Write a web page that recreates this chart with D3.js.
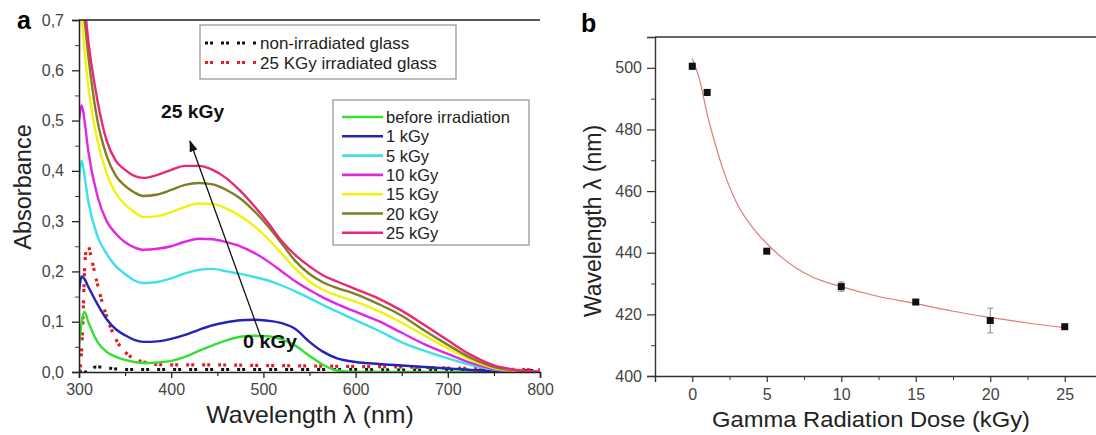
<!DOCTYPE html>
<html>
<head>
<meta charset="utf-8">
<script src="https://cdn.jsdelivr.net/npm/d3@7"></script>
<style>
body { margin: 0; background: #fff; }
svg { font-family: "Liberation Sans", Arial, sans-serif; }
.tick text { fill: #444; }
</style>
</head>
<body>
<div id="chart"></div>
<script>
// ---- panel a data (absorbance spectra) ----
var wavelengths = [300, 303, 306, 310, 320, 330, 340, 350, 360, 370, 385, 400, 415, 430, 445, 460, 475, 490, 505, 520, 535, 550, 565, 580, 600, 625, 650, 675, 700, 725, 750, 775, 800];
var absBefore = [0.05, 0.10, 0.12, 0.10, 0.06, 0.04, 0.03, 0.024, 0.02, 0.018, 0.019, 0.022, 0.03, 0.042, 0.053, 0.063, 0.07, 0.072, 0.071, 0.065, 0.052, 0.032, 0.014, 0.003, 0, 0, 0, 0, 0, 0, 0, 0, 0];
var abs1 = [0.16, 0.19, 0.185, 0.17, 0.135, 0.105, 0.085, 0.073, 0.064, 0.06, 0.061, 0.066, 0.074, 0.084, 0.093, 0.099, 0.103, 0.104, 0.102, 0.097, 0.085, 0.06, 0.04, 0.027, 0.02, 0.016, 0.013, 0.01, 0.007, 0.004, 0.002, 0.001, 0];
var abs5 = [0.38, 0.42, 0.39, 0.34, 0.27, 0.235, 0.21, 0.195, 0.182, 0.177, 0.179, 0.186, 0.196, 0.203, 0.205, 0.2, 0.195, 0.189, 0.182, 0.172, 0.16, 0.147, 0.133, 0.12, 0.103, 0.082, 0.059, 0.042, 0.027, 0.014, 0.005, 0.001, 0];
var abs10 = [0.5, 0.53, 0.5, 0.44, 0.35, 0.3, 0.275, 0.258, 0.248, 0.243, 0.245, 0.25, 0.259, 0.265, 0.264, 0.258, 0.25, 0.237, 0.22, 0.2, 0.18, 0.163, 0.148, 0.135, 0.12, 0.101, 0.078, 0.055, 0.036, 0.018, 0.006, 0.001, 0];
var abs15 = [0.75, 0.7, 0.64, 0.57, 0.46, 0.395, 0.355, 0.333, 0.318, 0.308, 0.31, 0.318, 0.328, 0.335, 0.334, 0.325, 0.31, 0.29, 0.265, 0.235, 0.205, 0.18, 0.163, 0.152, 0.14, 0.121, 0.098, 0.072, 0.047, 0.024, 0.008, 0.002, 0];
var abs20 = [0.8, 0.76, 0.7, 0.63, 0.5, 0.43, 0.39, 0.37, 0.357, 0.35, 0.353, 0.362, 0.372, 0.376, 0.373, 0.362, 0.345, 0.32, 0.29, 0.255, 0.22, 0.195, 0.178, 0.167, 0.155, 0.135, 0.112, 0.082, 0.054, 0.028, 0.01, 0.003, 0];
var abs25 = [0.8, 0.78, 0.73, 0.66, 0.54, 0.46, 0.42, 0.402, 0.39, 0.386, 0.392, 0.402, 0.41, 0.41, 0.402, 0.385, 0.36, 0.33, 0.297, 0.26, 0.232, 0.21, 0.192, 0.18, 0.165, 0.146, 0.122, 0.093, 0.063, 0.034, 0.013, 0.004, 0];

var glassWl = [300, 302, 304, 306, 308, 310, 313, 318, 325, 332, 340, 350, 360, 370, 385, 400, 450, 500, 550, 600, 650, 700, 750, 800];
var glassIrr = [0, 0.02, 0.09, 0.2, 0.245, 0.25, 0.23, 0.19, 0.14, 0.1, 0.065, 0.04, 0.026, 0.02, 0.015, 0.014, 0.014, 0.013, 0.012, 0.011, 0.01, 0.008, 0.006, 0.004];
var glassNon = [0, 0, 0, 0, 0, 0, 0.005, 0.01, 0.01, 0.008, 0.006, 0.005, 0.005, 0.005, 0.005, 0.005, 0.005, 0.005, 0.005, 0.005, 0.004, 0.004, 0.003, 0.003];

var seriesNames = ["before irradiation", "1 kGy", "5 kGy", "10 kGy", "15 kGy", "20 kGy", "25 kGy"];
var seriesValues = [absBefore, abs1, abs5, abs10, abs15, abs20, abs25];
var seriesColors = ["#35e035", "#2424b8", "#3ee0ee", "#e028e0", "#f2f20e", "#7f7f22", "#e8287a"];
var glassNames = ["non-irradiated glass", "25 KGy irradiated glass"];

// ---- panel b data (peak wavelength vs dose) ----
var doses = [0, 1, 5, 10, 15, 20, 25];
var peakWl = [500.5, 492, 440.5, 429, 424, 418, 416];
var peakErr = [1, 1, 0.5, 1.5, 0.5, 4, 0.5];
var fitDose = [0, 0.5, 1, 1.5, 2, 3, 4, 5, 6, 7, 8, 10, 12.5, 15, 17.5, 20, 22.5, 25];
var fitWl = [503, 496, 485, 476, 468, 456, 448.5, 443, 438.5, 435, 432.3, 429, 425.8, 423.5, 421, 419, 417.2, 415.7];

var svg = d3.select("#chart").append("svg")
  .attr("width", 1096)
  .attr("height", 435);

// ================= panel a =================
var ax = {left: 79, right: 540, top: 20, bottom: 372};
var xA = d3.scaleLinear().domain([300, 800]).range([ax.left, ax.right]);
var yA = d3.scaleLinear().domain([0, 0.7]).range([ax.bottom, ax.top]);
var fmtComma = function(d) { return d3.format(".1f")(d).replace(".", ","); };

svg.append("defs").append("clipPath").attr("id", "clipA")
  .append("rect").attr("x", ax.left).attr("y", ax.top)
  .attr("width", ax.right - ax.left).attr("height", ax.bottom - ax.top);

var lineA = d3.line()
  .x(function(d) { return xA(d[0]); })
  .y(function(d) { return yA(d[1]); })
  .curve(d3.curveMonotoneX);

var plotA = svg.append("g").attr("clip-path", "url(#clipA)");

// glass reference curves (dotted squares)
plotA.append("path")
  .attr("d", lineA(glassWl.map(function(w, i) { return [w, glassNon[i]]; })))
  .attr("fill", "none").attr("stroke", "#111").attr("stroke-width", 3)
  .attr("stroke-dasharray", "3,2,3,8");
plotA.append("path")
  .attr("d", lineA(glassWl.map(function(w, i) { return [w, glassIrr[i]]; })))
  .attr("fill", "none").attr("stroke", "#e02020").attr("stroke-width", 3.2)
  .attr("stroke-dasharray", "3,2,3,8");

seriesValues.forEach(function(vals, k) {
  plotA.append("path")
    .attr("d", lineA(wavelengths.map(function(w, i) { return [w, vals[i]]; })))
    .attr("fill", "none")
    .attr("stroke", seriesColors[k])
    .attr("stroke-width", 2.4);
});

// axes a
svg.append("g")
  .attr("transform", "translate(0," + ax.bottom + ")")
  .call(d3.axisBottom(xA).tickValues(d3.range(350, 800, 100)).tickSize(4).tickFormat(""))
  .call(function(g) { g.select(".domain").remove(); });
svg.append("g")
  .attr("transform", "translate(0," + ax.bottom + ")")
  .style("font-size", "16px")
  .call(d3.axisBottom(xA).tickValues(d3.range(300, 801, 100)).tickSize(6).tickPadding(6))
  .call(function(g) { g.select(".domain").attr("stroke", "#222").attr("stroke-width", 1.5); g.selectAll("line").attr("stroke", "#222").attr("stroke-width", 1.3); });

svg.append("g")
  .attr("transform", "translate(" + ax.left + ",0)")
  .call(d3.axisLeft(yA).tickValues(d3.range(0.05, 0.7, 0.1)).tickSize(4).tickFormat(""))
  .call(function(g) { g.select(".domain").remove(); g.selectAll("line").attr("stroke", "#444"); });
svg.append("g")
  .attr("transform", "translate(" + ax.left + ",0)")
  .style("font-size", "16px")
  .call(d3.axisLeft(yA).tickValues(d3.range(0, 0.71, 0.1)).tickSize(7).tickPadding(8).tickFormat(fmtComma))
  .call(function(g) { g.select(".domain").attr("stroke", "#222").attr("stroke-width", 1.5); g.selectAll("line").attr("stroke", "#222").attr("stroke-width", 1.3); });

svg.append("line")
  .attr("x1", ax.left).attr("x2", ax.right)
  .attr("y1", ax.top).attr("y2", ax.top)
  .attr("stroke", "#222").attr("stroke-width", 1.5);

svg.append("text").attr("x", 17).attr("y", 29)
  .style("font-size", "25px").style("font-weight", "bold").text("a");

svg.append("text")
  .attr("transform", "translate(31,187) rotate(-90)")
  .attr("text-anchor", "middle")
  .style("font-size", "23.5px").attr("fill", "#222")
  .text("Absorbance");

svg.append("text")
  .attr("transform", "translate(310,423) scale(1.08,1)")
  .attr("text-anchor", "middle")
  .style("font-size", "23px").attr("fill", "#222")
  .text("Wavelength λ (nm)");

// legend: glass
var lg1 = svg.append("g");
lg1.append("rect").attr("x", 200).attr("y", 25).attr("width", 256).attr("height", 54)
  .attr("fill", "#fff").attr("stroke", "#999").attr("stroke-width", 1.3);
glassNames.forEach(function(name, i) {
  var yy = 43 + i * 19.5;
  lg1.append("line").attr("x1", 205).attr("x2", 258).attr("y1", yy).attr("y2", yy)
    .attr("stroke", i === 0 ? "#111" : "#e02020").attr("stroke-width", 3)
    .attr("stroke-dasharray", "3,2,3,8");
  lg1.append("text").attr("x", 260).attr("y", yy + 6)
    .style("font-size", "17px").attr("fill", "#222").text(name);
});

// legend: doses
var lg2 = svg.append("g");
lg2.append("rect").attr("x", 333).attr("y", 100).attr("width", 196).attr("height", 145)
  .attr("fill", "#fff").attr("stroke", "#999").attr("stroke-width", 1.3);
seriesNames.forEach(function(name, i) {
  var yy = 117 + i * 19.3;
  lg2.append("line").attr("x1", 342).attr("x2", 383).attr("y1", yy).attr("y2", yy)
    .attr("stroke", seriesColors[i]).attr("stroke-width", 2.6);
  lg2.append("text").attr("x", 386).attr("y", yy + 6)
    .style("font-size", "16.5px").attr("fill", "#222").text(name);
});

// annotations
svg.append("defs").append("marker")
  .attr("id", "arr").attr("viewBox", "0 0 10 10")
  .attr("refX", 9).attr("refY", 5)
  .attr("markerWidth", 9).attr("markerHeight", 9)
  .attr("orient", "auto")
  .append("path").attr("d", "M0,1.5 L10,5 L0,8.5 Z").attr("fill", "#111");
svg.append("line")
  .attr("x1", 263).attr("y1", 343).attr("x2", 190).attr("y2", 141)
  .attr("stroke", "#111").attr("stroke-width", 1.3)
  .attr("marker-end", "url(#arr)");
svg.append("text").attr("transform", "translate(161,118) scale(1.1,1)")
  .style("font-size", "17.5px").style("font-weight", "bold").attr("fill", "#111")
  .text("25 kGy");
svg.append("text").attr("transform", "translate(243,348) scale(1.1,1)")
  .style("font-size", "18px").style("font-weight", "bold").attr("fill", "#111")
  .text("0 kGy");

// ================= panel b =================
var bx = {left: 655, right: 1102, top: 37, bottom: 376};
var xB = d3.scaleLinear().domain([-2.5, 27.5]).range([bx.left, bx.right]);
var yB = d3.scaleLinear().domain([400, 510]).range([bx.bottom, bx.top]);

svg.append("g")
  .attr("transform", "translate(0," + bx.bottom + ")")
  .call(d3.axisBottom(xB).tickValues(d3.range(2.5, 27, 5)).tickSize(4).tickFormat(""))
  .call(function(g) { g.select(".domain").remove(); g.selectAll("line").attr("stroke", "#444"); });
svg.append("g")
  .attr("transform", "translate(0," + bx.bottom + ")")
  .style("font-size", "16px")
  .call(d3.axisBottom(xB).tickValues(d3.range(0, 26, 5)).tickSize(6).tickPadding(7))
  .call(function(g) { g.select(".domain").attr("stroke", "#333").attr("stroke-width", 1.4); g.selectAll("line").attr("stroke", "#333").attr("stroke-width", 1.2); });

svg.append("g")
  .attr("transform", "translate(" + bx.left + ",0)")
  .call(d3.axisLeft(yB).tickValues(d3.range(410, 510, 20)).tickSize(4).tickFormat(""))
  .call(function(g) { g.select(".domain").remove(); g.selectAll("line").attr("stroke", "#444"); });
svg.append("g")
  .attr("transform", "translate(" + bx.left + ",0)")
  .style("font-size", "16px")
  .call(d3.axisLeft(yB).tickValues(d3.range(400, 501, 20)).tickSize(8).tickPadding(5))
  .call(function(g) { g.select(".domain").attr("stroke", "#333").attr("stroke-width", 1.4); g.selectAll("line").attr("stroke", "#333").attr("stroke-width", 1.2); });

svg.append("line")
  .attr("x1", bx.left).attr("x2", bx.right)
  .attr("y1", bx.top).attr("y2", bx.top)
  .attr("stroke", "#333").attr("stroke-width", 1.4);

// fit curve
var lineB = d3.line()
  .x(function(d) { return xB(d[0]); })
  .y(function(d) { return yB(d[1]); })
  .curve(d3.curveMonotoneX);
svg.append("path")
  .attr("d", lineB(fitDose.map(function(d, i) { return [d, fitWl[i]]; })))
  .attr("fill", "none").attr("stroke", "#e37a7a").attr("stroke-width", 1.2);

// error bars and points
var pts = doses.map(function(d, i) { return {x: d, y: peakWl[i], e: peakErr[i]}; });
var eb = svg.append("g").attr("stroke", "#888").attr("stroke-width", 1);
pts.forEach(function(p) {
  var cx = xB(p.x);
  eb.append("line").attr("x1", cx).attr("x2", cx).attr("y1", yB(p.y - p.e)).attr("y2", yB(p.y + p.e));
  eb.append("line").attr("x1", cx - 3).attr("x2", cx + 3).attr("y1", yB(p.y - p.e)).attr("y2", yB(p.y - p.e));
  eb.append("line").attr("x1", cx - 3).attr("x2", cx + 3).attr("y1", yB(p.y + p.e)).attr("y2", yB(p.y + p.e));
});
svg.append("g").selectAll("rect")
  .data(pts).enter().append("rect")
  .attr("x", function(d) { return xB(d.x) - 3.5; })
  .attr("y", function(d) { return yB(d.y) - 3.5; })
  .attr("width", 7).attr("height", 7)
  .attr("fill", "#111");

svg.append("text").attr("x", 581).attr("y", 32)
  .style("font-size", "25px").style("font-weight", "bold").text("b");

svg.append("text")
  .attr("transform", "translate(601,221) rotate(-90)")
  .attr("text-anchor", "middle")
  .style("font-size", "23px").attr("fill", "#222")
  .text("Wavelength λ (nm)");

svg.append("text")
  .attr("transform", "translate(871,427) scale(1.08,1)")
  .attr("text-anchor", "middle")
  .style("font-size", "22px").attr("fill", "#222")
  .text("Gamma Radiation Dose (kGy)");
</script>
</body>
</html>
